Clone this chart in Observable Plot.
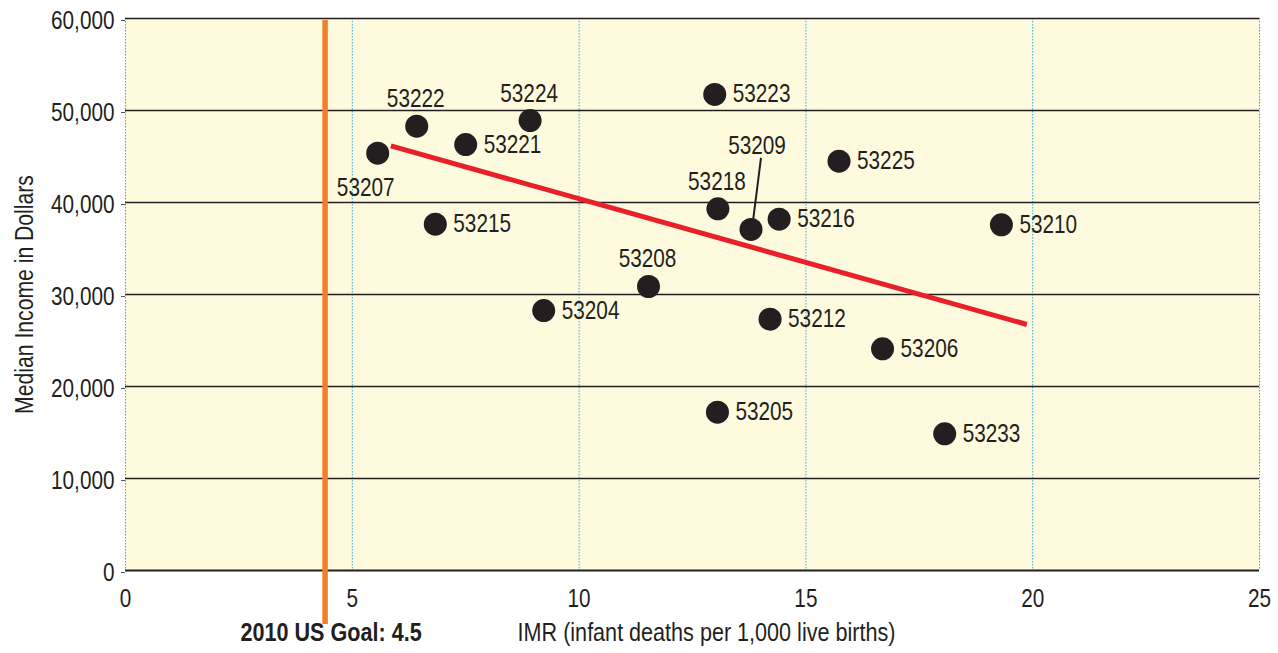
<!DOCTYPE html>
<html>
<head>
<meta charset="utf-8">
<script src="https://cdn.jsdelivr.net/npm/d3@7"></script>
<script src="https://cdn.jsdelivr.net/npm/@observablehq/plot@0.6"></script>
<style>
  html, body { margin: 0; padding: 0; background: #ffffff; }
  #chart svg { display: block; }
</style>
</head>
<body>
<div id="chart"></div>
<script>
// ---- data ----
const zips   = ["53207","53222","53221","53224","53215","53204","53208","53223","53218","53209","53216","53225","53210","53212","53206","53205","53233"];
const imr    = [5.56, 6.42, 7.50, 8.92, 6.83, 9.22, 11.53, 12.99, 13.06, 13.79, 14.41, 15.73, 19.31, 14.21, 16.69, 13.05, 18.06];
const income = [45360, 48300, 46300, 48900, 37640, 28260, 30870, 51740, 39310, 37070, 38190, 44490, 37570, 27320, 24100, 17210, 14860];

// trend line end points (IMR, income)
const trendIMR    = [5.85, 19.87];
const trendIncome = [46160, 26740];

// leader line for the 53209 label (IMR, income)
const leaderIMR    = [14.01, 13.84];
const leaderIncome = [44860, 38230];

const goalIMR = 4.4;
const goalLabel = "2010 US Goal: 4.5";

const xTicks = [0, 5, 10, 15, 20, 25];
const yTicks = [0, 10000, 20000, 30000, 40000, 50000, 60000];
const xGrid  = [5, 10, 15, 20];

const xTitle = "IMR (infant deaths per 1,000 live births)";
const yTitle = "Median Income in Dollars";

// label placement groups
const aboveZips = ["53222", "53224", "53208", "53218"];
const belowZips = ["53207"];
const leaderZips = ["53209"];

// ---- build table ----
const points = zips.map((z, i) => ({zip: z, imr: imr[i], income: income[i]}));
const trend = trendIMR.map((x, i) => ({imr: x, income: trendIncome[i]}));
const leader = [{x1: leaderIMR[0], y1: leaderIncome[0], x2: leaderIMR[1], y2: leaderIncome[1]}];

const ink = "#231f20";
const font = "'Liberation Sans', Arial, sans-serif";

const rightPts = points.filter(d => !aboveZips.includes(d.zip) && !belowZips.includes(d.zip) && !leaderZips.includes(d.zip));
const abovePts = points.filter(d => aboveZips.includes(d.zip));
const belowPts = points.filter(d => belowZips.includes(d.zip));
const leaderPts = points.filter(d => leaderZips.includes(d.zip));

const chart = Plot.plot({
  width: 1278,
  height: 653,
  marginLeft: 125,
  marginRight: 19,
  marginTop: 18,
  marginBottom: 83,
  x: {domain: [0, 25]},
  y: {domain: [0, 60000]},
  style: {fontFamily: font, fontSize: "25px", color: ink, background: "#ffffff", overflow: "visible"},
  marks: [
    Plot.frame({fill: "#fefadd", stroke: null}),
    Plot.ruleX([0, 25], {stroke: "#8a8a8a", strokeWidth: 1, strokeDasharray: "1.5,1.5"}),
    Plot.ruleX(xGrid, {stroke: "#2fb0e4", strokeWidth: 1, strokeDasharray: "1.5,1.5"}),
    Plot.ruleY(yTicks.filter(v => v > 0), {stroke: ink, strokeWidth: 1.5}),
    Plot.ruleY([0], {stroke: ink, strokeWidth: 2}),
    Plot.axisX({ticks: xTicks, tickSize: 0, tickPadding: 19, label: null, fill: ink}),
    Plot.axisY({ticks: yTicks, tickSize: 4, tickPadding: 7, tickFormat: d3.format(","), label: null, fill: ink, stroke: "#555", dy: 2}),
    Plot.ruleX([goalIMR], {stroke: "#f37f2b", strokeWidth: 5.5, insetTop: 2, insetBottom: -54}),
    Plot.line(trend, {x: "imr", y: "income", stroke: "#e8202a", strokeWidth: 5, strokeLinecap: "butt"}),
    Plot.link(leader, {x1: "x1", y1: "y1", x2: "x2", y2: "y2", stroke: ink, strokeWidth: 2}),
    Plot.dot(points, {x: "imr", y: "income", r: 11.5, fill: ink, stroke: null}),
    Plot.text(rightPts, {x: "imr", y: "income", text: "zip", textAnchor: "start", dx: 18, dy: 0, fill: ink}),
    Plot.text(abovePts, {x: "imr", y: "income", text: "zip", textAnchor: "middle", dx: -1, dy: -27, fill: ink}),
    Plot.text(belowPts, {x: "imr", y: "income", text: "zip", textAnchor: "middle", dx: -12, dy: 35, fill: ink}),
    Plot.text(leaderPts, {x: "imr", y: "income", text: "zip", textAnchor: "middle", dx: 6, dy: -83, fill: ink}),
    Plot.text([goalLabel], {x: () => goalIMR, frameAnchor: "bottom", text: d => d, textAnchor: "middle", dx: 6, dy: 70, fontWeight: "bold", fontSize: 26, fill: ink}),
    Plot.text([xTitle], {frameAnchor: "bottom", text: d => d, textAnchor: "middle", dx: 14, dy: 70, fontSize: 26, fill: ink}),
    Plot.text([yTitle], {frameAnchor: "left", text: d => d, textAnchor: "middle", rotate: -90, dx: -101, fontSize: 25.5, fill: ink})
  ]
});

document.getElementById("chart").appendChild(chart);

// condense glyphs horizontally (the reference uses a condensed face)
const condense = 0.83;
chart.querySelectorAll("text").forEach(t => {
  const w = t.getComputedTextLength();
  if (w > 0) {
    t.setAttribute("textLength", (w * condense).toFixed(2));
    t.setAttribute("lengthAdjust", "spacingAndGlyphs");
  }
});
</script>
</body>
</html>
